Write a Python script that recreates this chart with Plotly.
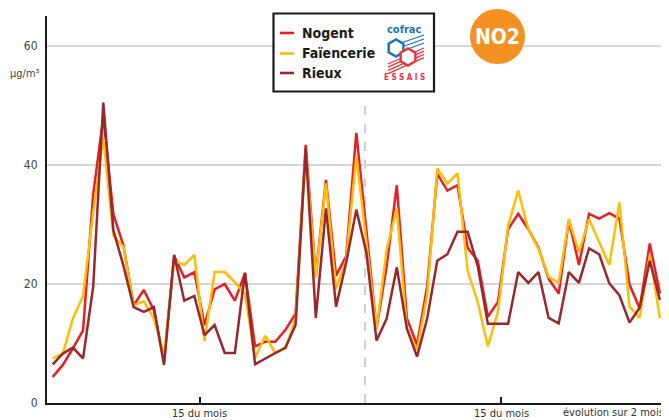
import math
import plotly.graph_objects as go

# daily NO2 values (µg/m3) over two months, one point per day
days = list(range(1, 62))

nogent = [4.4, 6.4, 9.2, 12.2, 35.0, 48.0, 31.7, 26.4, 16.4, 19.0,
          15.6, 7.0, 24.7, 21.1, 22.0, 13.1, 19.1, 20.0, 17.2, 21.8,
          9.5, 10.3, 10.3, 12.3, 15.0, 43.4, 21.4, 37.5, 21.4, 24.7,
          45.4, 29.0, 12.5, 23.0, 36.6, 14.2, 9.8, 19.6, 38.5, 35.7,
          36.6, 26.1, 23.9, 14.5, 17.0, 29.2, 31.8, 29.2, 26.1, 20.9,
          18.4, 30.7, 23.2, 31.8, 31.0, 31.9, 31.0, 19.9, 15.9, 26.8,
          18.4]

faiencerie = [7.5, 8.3, 14.2, 18.0, 32.0, 44.7, 28.1, 26.2, 16.4, 17.1,
              14.2, 8.0, 23.9, 23.2, 24.9, 10.4, 22.0, 22.0, 20.3, 18.3,
              7.6, 11.3, 8.4, 9.2, 14.2, 42.1, 21.1, 36.9, 19.2, 24.1,
              41.5, 27.0, 12.5, 25.8, 32.7, 12.5, 8.9, 18.1, 39.4, 36.9,
              38.6, 22.2, 17.0, 9.5, 15.3, 29.8, 35.7, 29.2, 25.9, 21.2,
              20.2, 30.9, 25.3, 30.9, 27.0, 23.2, 33.7, 16.2, 14.3, 24.9,
              14.3]

rieux = [6.5, 8.3, 9.3, 7.5, 19.5, 50.5, 29.0, 23.0, 16.1, 15.3,
         16.1, 6.4, 24.9, 17.2, 18.0, 11.4, 13.1, 8.4, 8.4, 21.9,
         6.5, 7.5, 8.4, 9.3, 13.1, 42.7, 14.3, 32.7, 16.2, 23.6,
         32.5, 25.2, 10.5, 14.2, 22.8, 12.5, 7.8, 14.2, 23.9, 25.0,
         28.8, 28.8, 23.0, 13.3, 13.3, 13.3, 22.0, 20.2, 22.0, 14.3,
         13.4, 22.0, 20.2, 26.0, 25.0, 20.1, 18.1, 13.5, 16.0, 23.9,
         17.3]

series_names = ['Nogent', 'Faïencerie', 'Rieux']
colors = ['#E41F26', '#FFBD0A', '#99282E']
y_ticks = [0, 20, 40, 60]
mid_month_ticks = [15.55, 45.3]
month_split = 31.86

FONT = 'DejaVu Sans Condensed, sans-serif'

# the page body has an 8px margin, so the figure is drawn 8px in from the corner
OFF = 8
W, H = 669 - OFF, 420 - OFF
# plot area in page pixels (for placing the decorations)
L, R, T, B = 47, 667, 16, 403


def px(x):
    return (x - L) / (R - L)


def py(y):
    return (B - y) / (B - T)


fig = go.Figure()
for name, vals, col in zip(series_names, [nogent, faiencerie, rieux], colors):
    fig.add_trace(go.Scatter(x=days, y=vals, mode='lines', name=name,
                             line=dict(color=col, width=2.5)))

shapes = []
# separation between the two months
shapes.append(dict(type='line', xref='x', yref='y', x0=month_split, x1=month_split,
                   y0=0, y1=51.4, line=dict(color='#cfcfcf', width=2, dash='dash'),
                   layer='below'))

# legend box
shapes.append(dict(type='rect', xref='paper', yref='paper',
                   x0=px(273.5), x1=px(434), y0=py(91.5), y1=py(13.5),
                   fillcolor='white', line=dict(color='#1a1a1a', width=2.2)))
legend_y = [33, 53.5, 73]
annotations = []
for name, col, ly in zip(series_names, colors, legend_y):
    shapes.append(dict(type='line', xref='paper', yref='paper',
                       x0=px(280), x1=px(294), y0=py(ly), y1=py(ly),
                       line=dict(color=col, width=2.6)))
    annotations.append(dict(text='<b>%s</b>' % name, xref='paper', yref='paper',
                            x=px(300), y=py(ly), xanchor='left', yanchor='middle',
                            showarrow=False, font=dict(family=FONT, size=14, color='#1a1a1a')))

# cofrac logo (simplified)
annotations.append(dict(text='<b>cofrac</b>', xref='paper', yref='paper', x=px(404), y=py(29),
                        xanchor='center', yanchor='middle', showarrow=False,
                        font=dict(family=FONT, size=11, color='#1B73B8')))
annotations.append(dict(text='<b>E S S A I S</b>', xref='paper', yref='paper', x=px(404), y=py(77),
                        xanchor='center', yanchor='middle', showarrow=False,
                        font=dict(family=FONT, size=8, color='#E8343F')))
for k in range(3):
    shapes.append(dict(type='line', xref='paper', yref='paper',
                       x0=px(398 + k * 1), x1=px(424), y0=py(44 + k * 4), y1=py(35 + k * 4),
                       line=dict(color='#1B73B8', width=1.3)))
for k in range(4):
    shapes.append(dict(type='line', xref='paper', yref='paper',
                       x0=px(388), x1=px(424), y0=py(64 + k * 3.2), y1=py(48 + k * 3.2),
                       line=dict(color='#E8343F', width=1.3)))


def hexagon(cx, cy, r):
    pts = []
    for k in range(6):
        a = math.radians(60 * k + 30)
        pts.append('%f,%f' % (px(cx + r * math.cos(a)), py(cy + r * math.sin(a))))
    return 'M ' + ' L '.join(pts) + ' Z'


shapes.append(dict(type='path', xref='paper', yref='paper', path=hexagon(396, 48, 8.5),
                   fillcolor='white', line=dict(color='#1B73B8', width=2.4)))
shapes.append(dict(type='path', xref='paper', yref='paper', path=hexagon(408, 57, 8.5),
                   fillcolor='white', line=dict(color='#E8343F', width=2.4)))

# NO2 badge
shapes.append(dict(type='circle', xref='paper', yref='paper',
                   x0=px(470), x1=px(525), y0=py(64), y1=py(9),
                   fillcolor='#F39220', line=dict(width=0)))
annotations.append(dict(text='<b>NO2</b>', xref='paper', yref='paper', x=px(497.5), y=py(37),
                        xanchor='center', yanchor='middle', showarrow=False,
                        font=dict(family=FONT, size=21, color='white')))

# unit and axis texts
annotations.append(dict(text='µg/m³', xref='paper', yref='paper', x=px(42), y=py(73),
                        xanchor='right', yanchor='middle', showarrow=False,
                        font=dict(family=FONT, size=11, color='#444444')))
for t in mid_month_ticks:
    annotations.append(dict(text='15 du mois', xref='x', yref='paper', x=t, y=0,
                            xanchor='center', yanchor='top', yshift=-2, showarrow=False,
                            font=dict(family=FONT, size=11, color='#333333')))
annotations.append(dict(text='évolution sur 2 mois', xref='paper', yref='paper', x=px(666), y=0,
                        xanchor='right', yanchor='top', yshift=-1, showarrow=False,
                        font=dict(family=FONT, size=11, color='#333333')))

fig.update_layout(
    width=W, height=H,
    margin=dict(l=L - OFF, r=W + OFF - R, t=T - OFF, b=H + OFF - B),
    paper_bgcolor='white', plot_bgcolor='white',
    showlegend=False,
    shapes=shapes, annotations=annotations,
    font=dict(family=FONT, size=12, color='#444444'),
    xaxis=dict(range=[0.437, 61.7], showgrid=False, zeroline=False,
               showline=True, linecolor='#1a1a1a', linewidth=2,
               tickvals=mid_month_ticks, ticks='inside', ticklen=6, tickwidth=1.5,
               tickcolor='#1a1a1a', showticklabels=False),
    yaxis=dict(range=[0, 65.04], tickvals=y_ticks, showgrid=True, gridcolor='#d6d6d6',
               gridwidth=1.6, zeroline=False, showline=True, linecolor='#1a1a1a',
               linewidth=2, ticks='', ticklabelstandoff=5,
               tickfont=dict(family=FONT, size=12, color='#444444')),
)

fig.write_html("out.html")
